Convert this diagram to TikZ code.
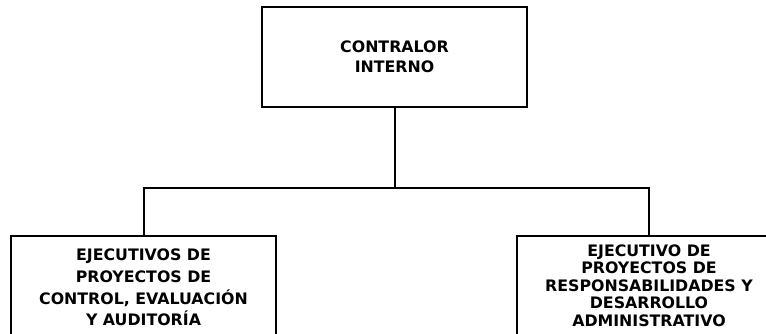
\documentclass[tikz,border=0pt]{standalone}
\usepackage{fontspec}
\setmainfont{DejaVu Sans}
\colorlet{chart line color}{black}
\tikzset{
    x={1pt},
    y={-1pt},
    office/.style={
        draw=chart line color,
        line width={2pt},
        rectangle,
        align=center,
        inner sep=0pt,
        outer sep=0pt,
        font={\bfseries\fontsize{15.8}{#1}\selectfont},
    },
    office/.default={19.5},
    connector/.style={
        draw=chart line color,
        line width={2pt},
    },
}

\begin{document}
\begin{tikzpicture}
% page
\useasboundingbox (0,0) rectangle (766,333);
\clip (0,0) rectangle (766,333);
% offices
\node[office, minimum width={265}, minimum height={99.5}] (contralor) at (394.5,56.75) {CONTRALOR\\INTERNO};
\node[office={21.7}, minimum width={265}, minimum height={102.8}, anchor=north] (auditoria) at (143.5,236) {EJECUTIVOS DE\\PROYECTOS DE\\CONTROL, EVALUACIÓN\\Y AUDITORÍA};
\node[office={17.5}, minimum width={264}, minimum height={99}, anchor=north] (responsabilidades) at (649,236) {EJECUTIVO DE\\PROYECTOS DE\\RESPONSABILIDADES Y\\DESARROLLO\\ADMINISTRATIVO};
% connectors
\coordinate (bus) at (394.5,188);
\draw[connector] (contralor.south) -- (bus);
\draw[connector] (auditoria.north) |- (bus) -| (responsabilidades.north);
\end{tikzpicture}
\end{document}
